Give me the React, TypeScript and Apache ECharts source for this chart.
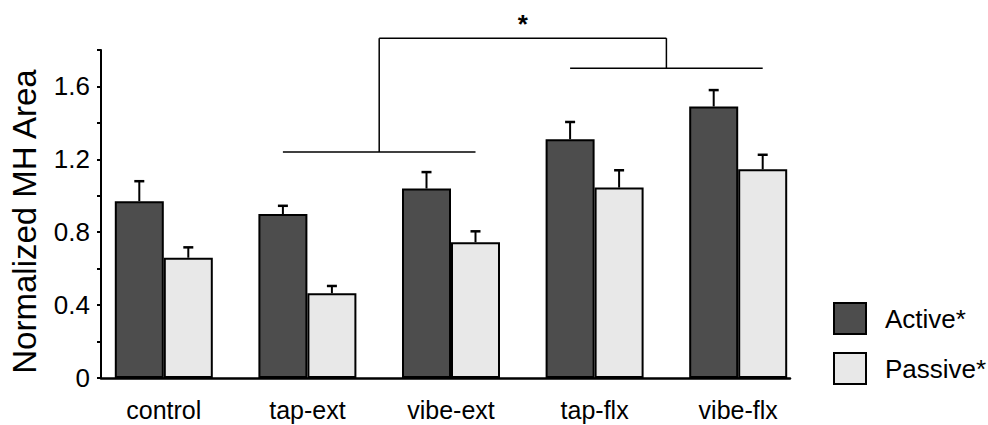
import React, { useEffect, useRef } from "react";
import * as echarts from "echarts";

const categories = ["control", "tap-ext", "vibe-ext", "tap-flx", "vibe-flx"];
const activeMeans = [0.97, 0.9, 1.04, 1.31, 1.49];
const activeErr = [0.11, 0.045, 0.09, 0.095, 0.09];
const passiveMeans = [0.66, 0.465, 0.745, 1.045, 1.145];
const passiveErr = [0.057, 0.04, 0.06, 0.095, 0.08];
const seriesNames = ["Active*", "Passive*"];
const yTickLabels = ["0", "0.4", "0.8", "1.2", "1.6"];

// significance brackets: [fromCategory (active bar), toCategory (passive bar), level]
const lowerBrackets = [
  [1, 2, 1.24],
  [3, 4, 1.7],
];
const topBracketLevel = 1.865;
const starLevel = 1.945;
const starText = "*";

const FONT = "'Liberation Sans', Arial, Helvetica, sans-serif";
const BAR_W = 49;

export default function App() {
  const ref = useRef<HTMLDivElement>(null);
  useEffect(() => {
    if (!ref.current) return;
    const chart = echarts.init(ref.current, null, { renderer: "svg" });

    const errRender = (offset: number) => (params: any, api: any) => {
      const idx = api.value(0);
      const v = api.value(1);
      const e = api.value(2);
      const base = api.coord([idx, v]);
      const top = api.coord([idx, v + e]);
      const x = base[0] + offset;
      return {
        type: "group",
        children: [
          { type: "line", shape: { x1: x, y1: base[1], x2: x, y2: top[1] }, style: { stroke: "#000", lineWidth: 2 } },
          { type: "line", shape: { x1: x - 5, y1: top[1], x2: x + 5, y2: top[1] }, style: { stroke: "#000", lineWidth: 2.5 } },
        ],
      };
    };

    const bracketRender = (params: any, api: any) => {
      if (params.dataIndex !== 0) return null;
      const children: any[] = [];
      const mids: number[][] = [];
      lowerBrackets.forEach((b) => {
        const p1 = api.coord([b[0], b[2]]);
        const p2 = api.coord([b[1], b[2]]);
        const x1 = p1[0] - BAR_W / 2;
        const x2 = p2[0] + BAR_W / 2;
        children.push({ type: "line", shape: { x1, y1: p1[1], x2, y2: p1[1] }, style: { stroke: "#000", lineWidth: 1.5 } });
        mids.push([(x1 + x2) / 2, p1[1]]);
      });
      const yTop = api.coord([0, topBracketLevel])[1];
      mids.forEach((m) => {
        children.push({ type: "line", shape: { x1: m[0], y1: m[1], x2: m[0], y2: yTop }, style: { stroke: "#000", lineWidth: 1.5 } });
      });
      children.push({ type: "line", shape: { x1: mids[0][0], y1: yTop, x2: mids[1][0], y2: yTop }, style: { stroke: "#000", lineWidth: 1.5 } });
      const yStar = api.coord([0, starLevel])[1];
      children.push({
        type: "text",
        x: (mids[0][0] + mids[1][0]) / 2,
        y: yStar,
        style: { text: starText, font: `bold 26px ${FONT}`, fill: "#000", align: "center", verticalAlign: "middle" },
      });
      return { type: "group", children };
    };

    chart.setOption({
      animation: false,
      textStyle: { fontFamily: FONT },
      grid: [
        { left: 92, top: 50, width: 718, height: 328 },
        { left: 100, top: 50, width: 690, height: 328 },
      ],
      legend: {
        data: seriesNames,
        orient: "vertical",
        left: 828,
        top: 297,
        itemWidth: 32,
        itemHeight: 31,
        itemGap: 17,
        icon: "rect",
        textStyle: { fontSize: 26, color: "#000", fontFamily: FONT, padding: [0, 0, 0, 14] },
      },
      xAxis: [
        {
          type: "category",
          gridIndex: 0,
          data: categories,
          axisLine: { show: false },
          axisTick: { show: false },
          axisLabel: { fontSize: 25, color: "#000", margin: 19, fontFamily: FONT },
        },
        {
          type: "value",
          gridIndex: 1,
          min: 0,
          max: 1,
          axisLine: { show: true, lineStyle: { color: "#000", width: 2.5 } },
          axisTick: { show: false },
          axisLabel: { show: false },
          splitLine: { show: false },
        },
      ],
      yAxis: [
        { type: "value", gridIndex: 0, min: 0, max: 1.8, show: false, splitLine: { show: false } },
        {
          type: "value",
          gridIndex: 1,
          min: 0,
          max: 1.8,
          interval: 0.2,
          axisLine: { show: true, lineStyle: { color: "#000", width: 2 } },
          axisTick: { show: true, length: 4, lineStyle: { color: "#000", width: 2 } },
          splitLine: { show: false },
          axisLabel: {
            fontSize: 26,
            color: "#000",
            margin: 11,
            fontFamily: FONT,
            formatter: (v: number) => {
              const s = v === 0 ? "0" : v.toFixed(1);
              return yTickLabels.includes(s) ? s : "";
            },
          },
          name: "Normalized MH Area",
          nameLocation: "middle",
          nameGap: 60,
          nameTextStyle: { fontSize: 33, color: "#000", fontFamily: FONT, padding: [0, 15, 0, 0] },
        },
      ],
      series: [
        {
          name: seriesNames[0],
          type: "bar",
          xAxisIndex: 0,
          yAxisIndex: 0,
          data: activeMeans,
          barWidth: BAR_W,
          barGap: "0%",
          itemStyle: { color: "#4d4d4d", borderColor: "#000", borderWidth: 2 },
        },
        {
          name: seriesNames[1],
          type: "bar",
          xAxisIndex: 0,
          yAxisIndex: 0,
          data: passiveMeans,
          barWidth: BAR_W,
          barGap: "0%",
          itemStyle: { color: "#e8e8e8", borderColor: "#000", borderWidth: 2 },
        },
        {
          type: "custom",
          xAxisIndex: 0,
          yAxisIndex: 0,
          renderItem: errRender(-BAR_W / 2),
          data: activeMeans.map((v, i) => [i, v, activeErr[i]]),
          z: 5,
        },
        {
          type: "custom",
          xAxisIndex: 0,
          yAxisIndex: 0,
          renderItem: errRender(BAR_W / 2),
          data: passiveMeans.map((v, i) => [i, v, passiveErr[i]]),
          z: 5,
        },
        {
          type: "custom",
          xAxisIndex: 0,
          yAxisIndex: 0,
          renderItem: bracketRender,
          data: [[0, 0]],
          clip: false,
          z: 5,
        },
      ],
    });
    return () => chart.dispose();
  }, []);
  return (
    <div
      ref={ref}
      style={{ position: "absolute", left: 0, top: 0, width: 988, height: 425, background: "#fff" }}
    />
  );
}
